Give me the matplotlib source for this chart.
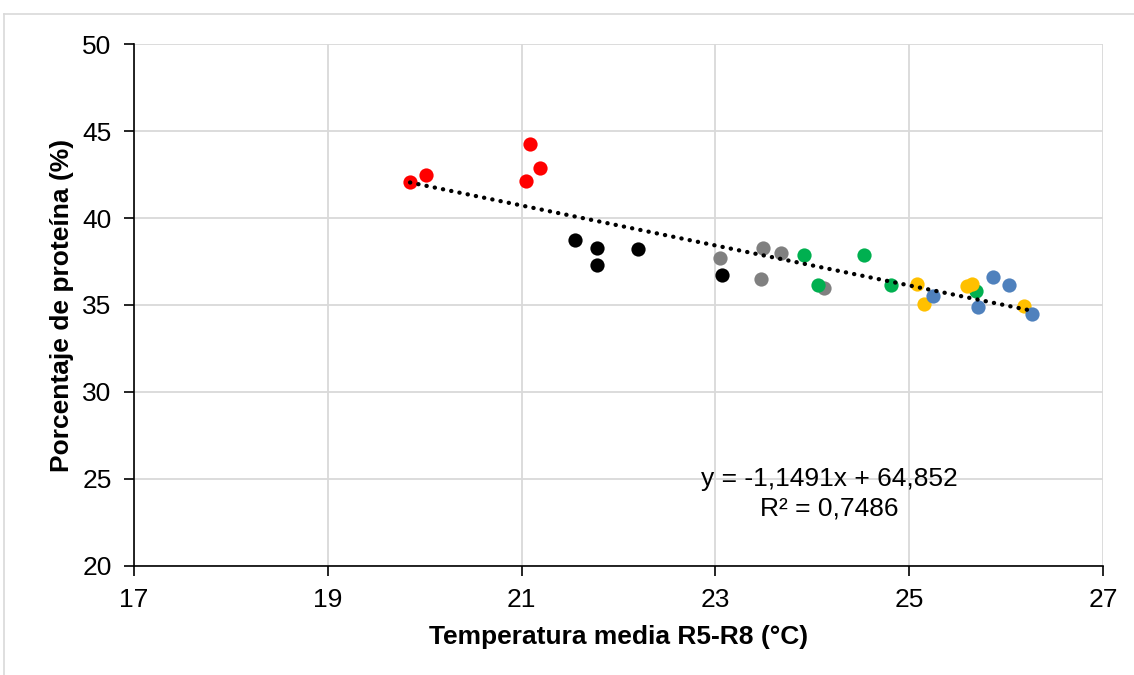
import numpy as np
import matplotlib
matplotlib.use("Agg")
import matplotlib.pyplot as plt
from matplotlib.lines import Line2D

plt.rcParams['font.family'] = ['Liberation Sans', 'DejaVu Sans']

# data, grouped by colour
red_x = [19.85, 20.01, 21.09, 21.05, 21.19]
red_y = [42.05, 42.45, 44.25, 42.1, 42.9]
black_x = [21.55, 21.78, 21.78, 22.20, 23.07]
black_y = [38.75, 38.25, 37.3, 38.2, 36.7]
gray_x = [23.05, 23.49, 23.47, 23.68, 24.12]
gray_y = [37.7, 38.28, 36.5, 38.0, 36.0]
green_x = [23.91, 24.53, 24.06, 24.81, 25.69]
green_y = [37.85, 37.9, 36.15, 36.15, 35.8]
yellow_x = [25.08, 25.15, 25.60, 25.65, 26.18]
yellow_y = [36.22, 35.05, 36.1, 36.2, 34.92]
blue_x = [25.25, 25.86, 26.03, 25.71, 26.27]
blue_y = [35.52, 36.62, 36.15, 34.87, 34.47]

slope = -1.1491
intercept = 64.852
eq_text = "y = -1,1491x + 64,852"
r2_text = "R² = 0,7486"

fig = plt.figure(figsize=(11.34, 6.75), dpi=100)
ax = fig.add_axes([0.118, 0.1615, 0.8547, 0.7733])

groups = [
    (red_x, red_y, '#FF0000'),
    (black_x, black_y, '#000000'),
    (gray_x, gray_y, '#808080'),
    (green_x, green_y, '#00B050'),
    (yellow_x, yellow_y, '#FFC000'),
    (blue_x, blue_y, '#4F81BD'),
]
for gx, gy, c in groups:
    ax.scatter(gx, gy, s=105, color=c, linewidths=0, zorder=3)

allx = np.concatenate([g[0] for g in groups])
tx = np.array([allx.min(), allx.max()])
ax.plot(tx, slope * tx + intercept, color='black', lw=3.1,
        linestyle=(0, (0.05, 1.9)), dash_capstyle='round', zorder=4)

ax.text(24.18, 25.0, eq_text, ha='center', va='center', fontsize=19)
ax.text(24.18, 23.3, r2_text, ha='center', va='center', fontsize=19)

ax.set_xlim(17, 27)
ax.set_ylim(20, 50)
ax.set_xticks(np.arange(17, 28, 2))
ax.set_yticks(np.arange(20, 51, 5))
ax.grid(True, color='#D9D9D9', lw=1.3)
ax.set_axisbelow(True)
for s in ['top', 'right']:
    ax.spines[s].set_visible(False)
for s in ['left', 'bottom']:
    ax.spines[s].set_color('black')
    ax.spines[s].set_linewidth(1.2)
ax.tick_params(axis='both', labelsize=19, length=7, width=1.2, direction='out', pad=9)

ax.set_xlabel('Temperatura media R5-R8 (°C)', fontsize=19, fontweight='bold')
ax.set_ylabel('Porcentaje de proteína (%)', fontsize=19, fontweight='bold')
ax.xaxis.set_label_coords(0.5, -0.136)
ax.yaxis.set_label_coords(-0.074, 0.5)
ax.xaxis.label.set_va('center')
ax.yaxis.label.set_va('center')

# outer chart border
fig.add_artist(Line2D([4 / 1134, 4 / 1134], [0, 1 - 14 / 675], color='#D9D9D9', lw=1.2))
fig.add_artist(Line2D([4 / 1134, 1], [1 - 14 / 675, 1 - 14 / 675], color='#D9D9D9', lw=1.2))

fig.savefig('out.png', dpi=100)
